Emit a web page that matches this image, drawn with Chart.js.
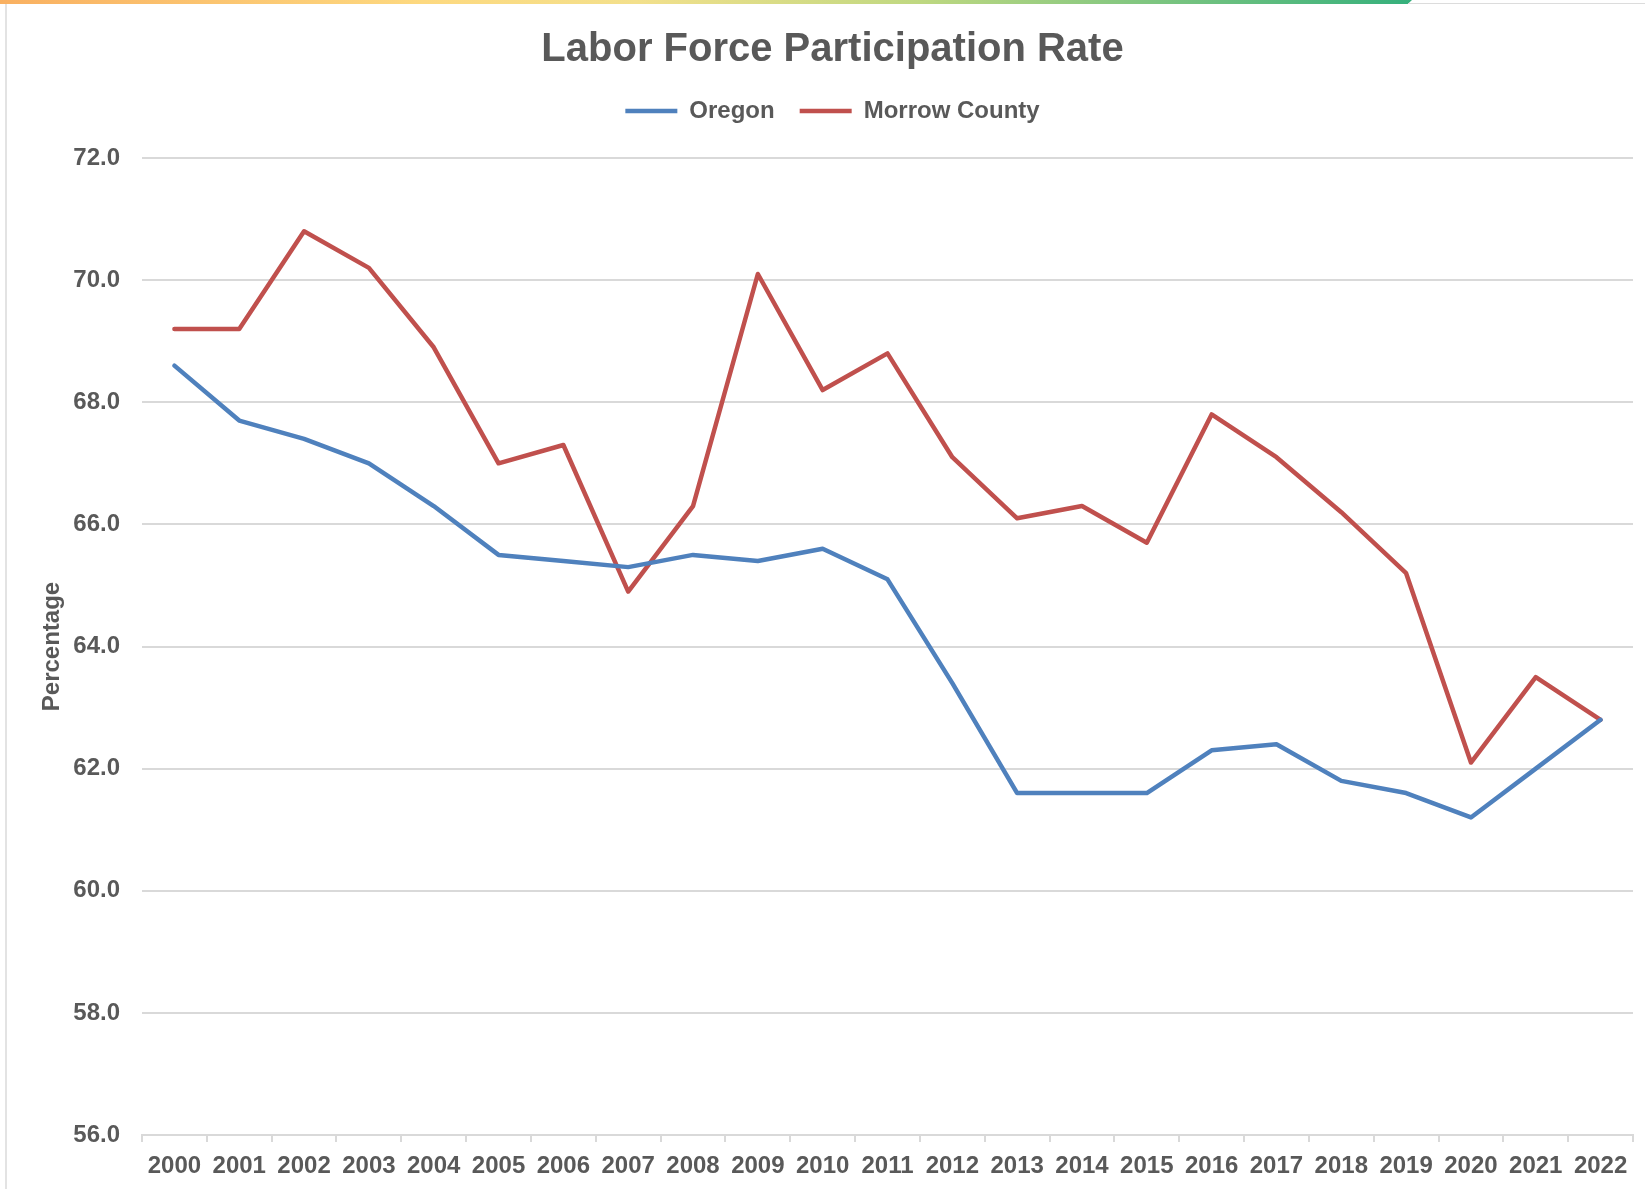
<!DOCTYPE html>
<html>
<head>
<meta charset="utf-8">
<title>Labor Force Participation Rate</title>
<script src="https://cdn.jsdelivr.net/npm/chart.js@4.4.1/dist/chart.umd.min.js"></script>
<style>
  html, body { margin: 0; padding: 0; background: #fff; }
  .wrap { position: relative; width: 1645px; height: 1189px; overflow: hidden; }
  /* decorative page strip and frame seen in the screenshot */
  .top-strip {
    position: absolute; left: 0; top: 0; width: 1412px; height: 4px;
    background: linear-gradient(to right, #f9b061, #fdd980 30%, #f3e08c 45%, #bfd881 65%, #7cc580 82%, #35b07c);
    clip-path: polygon(0 0, 100% 0, 99.7% 100%, 0 100%);
  }
  .top-line { position: absolute; left: 1408px; top: 3px; right: 0; height: 1px; background: #dcdcdc; }
  .left-line { position: absolute; left: 5px; top: 4px; bottom: 0; width: 2px; background: #e3e3e3; }
  canvas { position: absolute; left: 0; top: 0; }
</style>
</head>
<body>
<div class="wrap">
  <canvas id="lfprChart" width="1645" height="1189"></canvas>
  <div class="top-strip"></div>
  <div class="top-line"></div>
  <div class="left-line"></div>
</div>
<script>
// data
const years = ['2000', '2001', '2002', '2003', '2004', '2005', '2006', '2007', '2008', '2009', '2010', '2011',
  '2012', '2013', '2014', '2015', '2016', '2017', '2018', '2019', '2020', '2021', '2022'];
const oregon = [68.6, 67.7, 67.4, 67.0, 66.3, 65.5, 65.4, 65.3, 65.5, 65.4, 65.6, 65.1,
  63.4, 61.6, 61.6, 61.6, 62.3, 62.4, 61.8, 61.6, 61.2, 62.0, 62.8];
const morrow = [69.2, 69.2, 70.8, 70.2, 68.9, 67.0, 67.3, 64.9, 66.3, 70.1, 68.2, 68.8,
  67.1, 66.1, 66.3, 65.7, 67.8, 67.1, 66.2, 65.2, 62.1, 63.5, 62.8];
const yMin = 56;
const yMax = 72;
const yStep = 2;

const textGray = '#595959';
const gridGray = '#d9d9d9';
const fontFamily = '"Liberation Sans", Arial, sans-serif';

// give the legend some extra room below it, like the Excel layout
const legendGap = {
  id: 'legendGap',
  beforeInit(chart) {
    const fit = chart.legend.fit;
    chart.legend.fit = function () {
      fit.bind(chart.legend)();
      this.height = 84;
    };
  }
};

new Chart(document.getElementById('lfprChart'), {
  type: 'line',
  data: {
    labels: years,
    datasets: [
      {
        label: 'Oregon',
        data: oregon,
        borderColor: '#4f81bd',
        backgroundColor: '#4f81bd',
        borderWidth: 4.5,
        pointRadius: 0,
        pointStyle: 'line',
        borderCapStyle: 'round',
        borderJoinStyle: 'round',
        tension: 0
      },
      {
        label: 'Morrow County',
        data: morrow,
        borderColor: '#c0504d',
        backgroundColor: '#c0504d',
        borderWidth: 4.5,
        pointRadius: 0,
        pointStyle: 'line',
        borderCapStyle: 'round',
        borderJoinStyle: 'round',
        tension: 0
      }
    ]
  },
  options: {
    responsive: false,
    animation: false,
    layout: { padding: { left: 32, right: 12, top: 0, bottom: 0 } },
    plugins: {
      title: {
        display: true,
        text: 'Labor Force Participation Rate',
        color: textGray,
        font: { family: fontFamily, size: 40, weight: 'bold', lineHeight: 1.2 },
        padding: { top: 26, bottom: 0 }
      },
      legend: {
        display: true,
        position: 'top',
        labels: {
          usePointStyle: true,
          pointStyleWidth: 52,
          padding: 25,
          color: textGray,
          font: { family: fontFamily, size: 24, weight: 'bold' }
        }
      },
      tooltip: { enabled: false }
    },
    scales: {
      x: {
        type: 'category',
        offset: true,
        grid: {
          offset: true,
          drawOnChartArea: false,
          drawTicks: true,
          tickLength: 7,
          color: gridGray,
          lineWidth: 2
        },
        border: { display: true, color: gridGray, width: 2 },
        ticks: {
          color: textGray,
          padding: 10,
          maxRotation: 0,
          autoSkip: false,
          font: { family: fontFamily, size: 24, weight: 'bold' }
        },
        afterFit(scale) { scale.height = 54; }
      },
      y: {
        min: yMin,
        max: yMax,
        grid: { color: gridGray, lineWidth: 2, drawTicks: false },
        border: { display: false },
        ticks: {
          stepSize: yStep,
          color: textGray,
          padding: 22,
          font: { family: fontFamily, size: 24, weight: 'bold' },
          callback: (v) => Number(v).toFixed(1)
        },
        title: {
          display: true,
          text: 'Percentage',
          color: textGray,
          padding: { top: 6, bottom: 0 },
          font: { family: fontFamily, size: 24, weight: 'bold', lineHeight: 1.2 }
        },
        afterFit(scale) { scale.width = 110; }
      }
    }
  },
  plugins: [legendGap]
});
</script>
</body>
</html>
